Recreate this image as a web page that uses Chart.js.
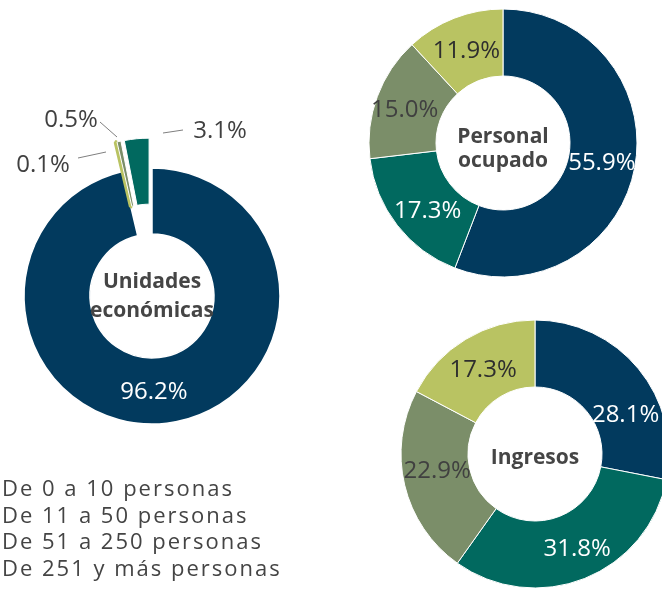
<!DOCTYPE html>
<html lang="es">
<head>
<meta charset="utf-8">
<title>Unidades económicas, personal ocupado e ingresos</title>
<script src="https://cdn.jsdelivr.net/npm/chart.js@4.4.1/dist/chart.umd.min.js"></script>
<style>
    html, body { margin: 0; padding: 0; background: #fff; }
    body { position: relative; width: 662px; height: 593px; overflow: hidden; font-family: "Open Sans", sans-serif; }
    canvas { position: absolute; }
    #leyenda { position: absolute; left: 2px; top: 474px; color: #444; font-size: 22px; letter-spacing: 2px; line-height: 26.7px; }
</style>
</head>
<body>
<canvas id="graficoUnidades" width="304" height="592" style="left:0;top:0"></canvas>
<canvas id="graficoPersonal" width="300" height="286" style="left:353px;top:0"></canvas>
<canvas id="graficoIngresos" width="300" height="300" style="left:385px;top:304px"></canvas>
<div id="leyenda"></div>
<script>
// Datos (porcentajes por tamaño de la unidad economica)
const categorias = ['De 0 a 10 personas', 'De 11 a 50 personas', 'De 51 a 250 personas', 'De 251 y más personas'];
const unidades = [96.2, 3.1, 0.5, 0.1];
const personal = [55.9, 17.3, 15.0, 11.9];
const ingresos = [28.1, 31.8, 22.9, 17.3];

const colores = ['#023a5e', '#01695f', '#7b8e69', '#b9c362'];
const coloresTexto = ['#ffffff', '#ffffff', '#404040', '#2e2e2e'];

// En la grafica de unidades las rebanadas chicas van en orden inverso
const ordenUnidades = [0, 3, 2, 1];

// Leyenda (solo texto, como en la imagen)
document.getElementById('leyenda').innerHTML = categorias.map(c => '<div>' + c + '</div>').join('');

// Separa algunas rebanadas del centro solo al dibujar
const pluginSeparar = {
    id: 'separar',
    beforeDatasetDraw(chart, args, opts) {
        if (!opts.indices) return;
        args.meta.data.forEach((arc, i) => {
            if (opts.indices.includes(i)) {
                const mitad = (arc.startAngle + arc.endAngle) / 2;
                arc._dx = Math.cos(mitad) * opts.distancia;
                arc._dy = Math.sin(mitad) * opts.distancia;
                arc.x += arc._dx;
                arc.y += arc._dy;
            }
        });
    },
    afterDatasetDraw(chart, args, opts) {
        if (!opts.indices) return;
        args.meta.data.forEach((arc, i) => {
            if (opts.indices.includes(i)) {
                arc.x -= arc._dx;
                arc.y -= arc._dy;
            }
        });
    }
};

// Etiquetas de porcentaje y titulo en el centro
const pluginEtiquetas = {
    id: 'etiquetas',
    afterDatasetsDraw(chart, args, opts) {
        const ctx = chart.ctx;
        const meta = chart.getDatasetMeta(0);
        const ds = chart.data.datasets[0];
        const tam = 24;
        ctx.save();
        ctx.font = tam + 'px "Open Sans"';
        ctx.textAlign = 'center';
        ctx.textBaseline = 'alphabetic';
        const bajar = tam * 0.36; // centra los digitos en el punto
        meta.data.forEach((arc, i) => {
            const texto = ds.data[i].toFixed(1) + '%';
            const ext = opts.externas && opts.externas[i];
            if (ext) {
                ctx.strokeStyle = '#7f7f7f';
                ctx.lineWidth = 1;
                ctx.beginPath();
                ctx.moveTo(arc.x + ext.linea[0], arc.y + ext.linea[1]);
                ctx.lineTo(arc.x + ext.linea[2], arc.y + ext.linea[3]);
                ctx.stroke();
                ctx.fillStyle = '#404040';
                ctx.fillText(texto, arc.x + ext.texto[0], arc.y + ext.texto[1] + bajar);
            } else {
                const p = arc.tooltipPosition();
                const aj = (opts.ajustes && opts.ajustes[i]) || [0, 0];
                ctx.fillStyle = ds.colorTexto[i];
                ctx.fillText(texto, p.x + aj[0], p.y + aj[1] + bajar);
            }
        });
        // titulo (lineas base relativas al centro)
        const c = meta.data[0];
        ctx.font = 'bold 21px "Open Sans"';
        ctx.fillStyle = '#454545';
        opts.titulo.forEach((linea, k) => {
            ctx.fillText(linea, c.x, c.y + opts.bases[k]);
        });
        ctx.restore();
    }
};

function crearDona(id, valores, orden, radio, hueco, extra) {
    const ctx = document.getElementById(id).getContext('2d');
    return new Chart(ctx, {
        type: 'doughnut',
        data: {
            labels: orden.map(i => categorias[i]),
            datasets: [{
                data: orden.map(i => valores[i]),
                backgroundColor: orden.map(i => colores[i]),
                colorTexto: orden.map(i => coloresTexto[i]),
                borderColor: extra.bordeColor || '#ffffff',
                borderWidth: extra.bordeAncho || 1
            }]
        },
        options: {
            responsive: false,
            animation: false,
            events: [],
            radius: radio,
            cutout: hueco,
            layout: { padding: 0 },
            plugins: {
                legend: { display: false },
                tooltip: { enabled: false },
                separar: extra.separar || {},
                etiquetas: extra.etiquetas
            }
        },
        plugins: [pluginSeparar, pluginEtiquetas]
    });
}

// Unidades economicas
crearDona('graficoUnidades', unidades, ordenUnidades, 128, '48.4%', {
    bordeColor: ['#ffffff', colores[3], '#ffffff', '#ffffff'],
    bordeAncho: [1.5, 4, 1, 1],
    separar: { indices: [1, 2, 3], distancia: 30 },
    etiquetas: {
        titulo: ['Unidades', 'económicas'],
        bases: [-8, 21],
        ajustes: { 0: [-9, 0] },
        externas: {
            1: { texto: [-109, -133], linea: [-74, -138, -46, -144] },
            2: { texto: [-81, -178], linea: [-52, -174, -35, -159] },
            3: { texto: [68, -167], linea: [11, -163, 31, -166] }
        }
    }
});

// Personal ocupado
crearDona('graficoPersonal', personal, [0, 1, 2, 3], 134, '50%', {
    etiquetas: { titulo: ['Personal', 'ocupado'], bases: [0, 24], ajustes: { 1: [4, 5], 2: [-4, 0] } }
});

// Ingresos
crearDona('graficoIngresos', ingresos, [0, 1, 2, 3], 134, '50%', {
    etiquetas: { titulo: ['Ingresos'], bases: [10], ajustes: { 0: [13, 23], 2: [0, -8], 1: [5, 0] } }
});
</script>
</body>
</html>
